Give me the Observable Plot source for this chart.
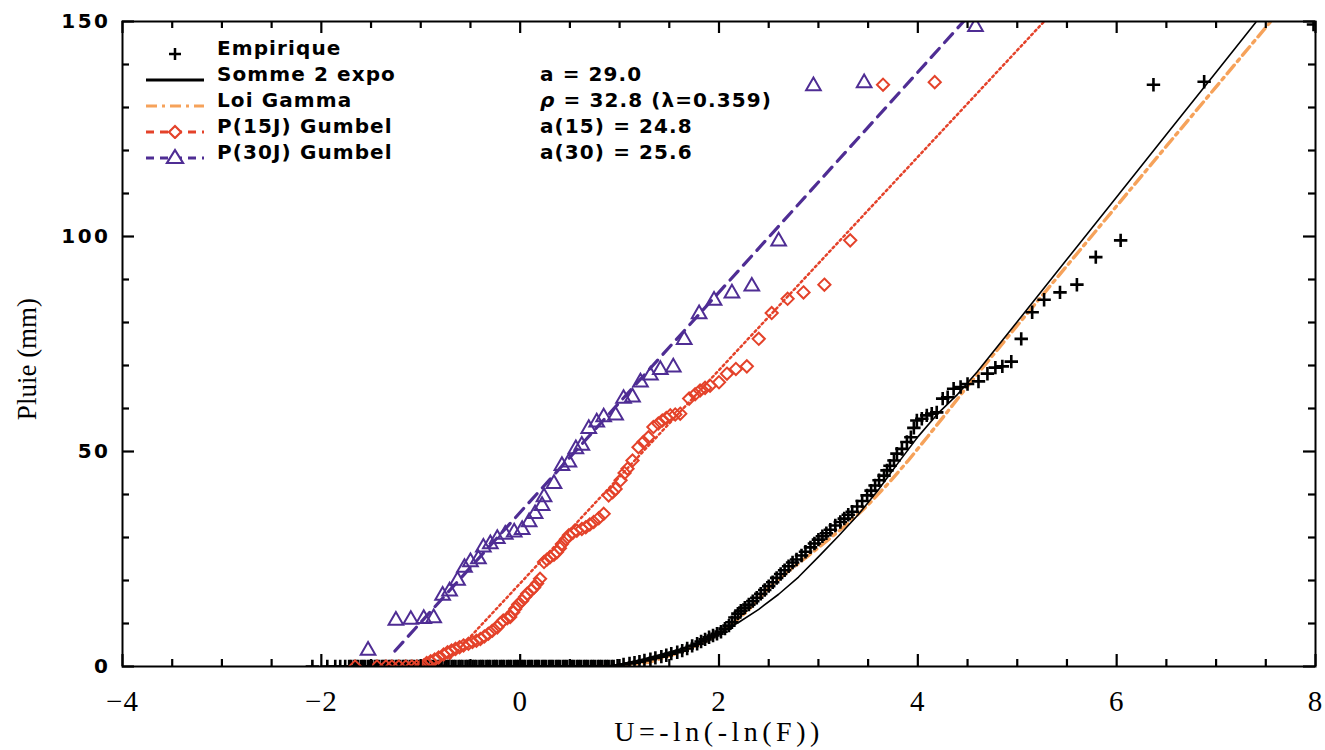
<!DOCTYPE html>
<html><head><meta charset="utf-8">
<script src="https://cdn.jsdelivr.net/npm/d3@7"></script>
<script src="https://cdn.jsdelivr.net/npm/@observablehq/plot@0.6"></script>
<style>
html,body{margin:0;background:#fff;overflow:hidden;}
#wrap{position:relative;width:1325px;height:750px;overflow:hidden;}
#wrap svg{display:block;}
#chart,#ticks{position:absolute;left:0;top:0;}
#legend{position:absolute;left:0;top:0;width:900px;height:180px;pointer-events:none;}
.lrow{position:absolute;left:140px;height:26px;display:flex;align-items:center;font-family:"DejaVu Sans",sans-serif;font-weight:bold;font-size:20px;letter-spacing:1.1px;color:#000;white-space:nowrap;}
.lrow svg{width:77px;height:26px;flex:none;}
.lrow .t1{width:323px;}
g[aria-label="y-axis tick label"] text{letter-spacing:2.5px;}
g[aria-label="x-axis tick label"] text{letter-spacing:1px;}
</style>
</head><body>
<div id="wrap"><div id="chart"></div><div id="ticks"></div><div id="legend"></div></div>
<script>
// ---- data ----
const xMajor = [-4, -2, 0, 2, 4, 6, 8];
const xMinor = [-3.5, -3, -2.5, -1.5, -1, -0.5, 0.5, 1, 1.5, 2.5, 3, 3.5, 4.5, 5, 5.5, 6.5, 7, 7.5];
const yMajor = [0, 50, 100, 150];
const yMinor = [10, 20, 30, 40, 60, 70, 80, 90, 110, 120, 130, 140];

// Empirique: U values of the zero-rain days
const empZeroU = [-2.09, -1.94, -1.86, -1.81, -1.76, -1.72, -1.70, -1.67, -1.65, -1.63, -1.60, -1.58, -1.56, -1.53, -1.51, -1.49, -1.46, -1.44, -1.42, -1.39, -1.37, -1.35, -1.32, -1.30, -1.28, -1.25, -1.23, -1.21, -1.18, -1.16, -1.14, -1.11, -1.09, -1.07, -1.04, -1.02, -1.00, -0.97, -0.95, -0.93, -0.90, -0.88, -0.86, -0.83, -0.81, -0.79, -0.76, -0.74, -0.72, -0.69, -0.67, -0.65, -0.62, -0.60, -0.58, -0.55, -0.53, -0.51, -0.48, -0.46, -0.44, -0.41, -0.39, -0.37, -0.34, -0.32, -0.30, -0.27, -0.25, -0.23, -0.20, -0.18, -0.16, -0.13, -0.11, -0.09, -0.06, -0.04, -0.02, 0.01, 0.03, 0.05, 0.08, 0.10, 0.12, 0.15, 0.17, 0.19, 0.22, 0.24, 0.26, 0.29, 0.31, 0.33, 0.36, 0.38, 0.40, 0.43, 0.45, 0.47, 0.50, 0.52, 0.54, 0.57, 0.59, 0.61, 0.64, 0.66, 0.68, 0.71, 0.73, 0.75, 0.78, 0.80, 0.82, 0.85, 0.87, 0.89, 0.92, 0.94];
// Empirique: rainy days (U, pluie)
const empU = [0.98, 1.04, 1.10, 1.15, 1.20, 1.25, 1.31, 1.36, 1.42, 1.47, 1.52, 1.58, 1.63, 1.68, 1.73, 1.78, 1.82, 1.86, 1.90, 1.94, 1.98, 2.02, 2.06, 2.10, 2.13, 2.16, 2.19, 2.22, 2.26, 2.30, 2.34, 2.38, 2.42, 2.46, 2.50, 2.54, 2.58, 2.62, 2.66, 2.70, 2.74, 2.78, 2.83, 2.87, 2.92, 2.96, 3.00, 3.04, 3.08, 3.12, 3.17, 3.22, 3.26, 3.30, 3.34, 3.39, 3.44, 3.49, 3.53, 3.57, 3.61, 3.66, 3.69, 3.72, 3.76, 3.79, 3.84, 3.89, 3.93, 3.96, 3.99, 4.04, 4.09, 4.14, 4.19, 4.25, 4.30, 4.36, 4.43, 4.50, 4.61, 4.70, 4.78, 4.85, 4.94, 5.04, 5.15, 5.27, 5.43, 5.60, 5.79, 6.04, 6.37, 6.88, 7.98];
const empP = [0.2, 0.5, 0.7, 0.9, 1.1, 1.4, 1.7, 2.0, 2.3, 2.6, 3.0, 3.3, 3.7, 4.2, 4.8, 5.3, 5.8, 6.3, 6.8, 7.2, 7.6, 8.1, 8.8, 9.5, 10.3, 11.4, 12.3, 13.0, 13.7, 14.4, 15.2, 16.0, 16.9, 17.8, 18.7, 19.6, 20.6, 21.5, 22.4, 23.3, 24.2, 24.9, 25.8, 26.7, 27.7, 28.6, 29.5, 30.3, 31.0, 31.8, 32.8, 33.6, 34.4, 35.3, 36.0, 37.2, 38.5, 39.8, 40.9, 42.1, 43.3, 44.4, 45.6, 46.7, 47.9, 49.5, 50.6, 52.2, 53.3, 55.5, 57.2, 57.6, 58.4, 58.8, 59.1, 62.3, 62.6, 64.6, 65.0, 65.7, 66.3, 68.1, 69.5, 69.8, 70.9, 76.2, 82.4, 85.3, 87.0, 88.8, 95.2, 99.1, 135.3, 136.0, 149.3];

// Somme 2 expo (a = 29.0)
const expoU = [0.85, 1.0, 1.2, 1.4, 1.6, 1.8, 2.0, 2.2, 2.4, 2.6, 2.8, 3.0, 3.2, 3.4, 3.6, 3.8, 4.0, 4.2, 4.4, 4.6, 5.0, 5.5, 6.0, 6.5, 7.0, 7.40];
const expoP = [0, 0.5, 1.5, 2.7, 4.0, 5.6, 7.7, 10.3, 13.3, 16.8, 20.8, 25.5, 30.3, 35.3, 41.0, 47.3, 53.4, 58.8, 63.3, 68.6, 80.2, 94.7, 109.2, 123.7, 138.2, 149.8];
// Loi Gamma
const gamU = [0.76, 1.0, 1.3, 1.6, 1.9, 2.1, 2.3, 2.5, 2.7, 2.9, 3.1, 3.3, 3.5, 3.7, 3.9, 4.1, 4.3, 4.5, 5.0, 5.5, 6.0, 6.5, 7.0, 7.55];
const gamP = [0, 0.2, 1.0, 3.2, 6.2, 9.3, 13.2, 18.3, 22.2, 25.8, 29.5, 33.3, 37.6, 42.5, 47.8, 53.5, 59.3, 65.2, 79.3, 93.2, 107.1, 121.0, 134.8, 150.0];

// P(15J) Gumbel points and fitted line (a(15) = 24.8)
const p15U = [-1.66, -1.44, -1.35, -1.29, -1.22, -1.15, -1.09, -1.04, -1.00, -0.97, -0.94, -0.90, -0.86, -0.82, -0.77, -0.73, -0.69, -0.65, -0.61, -0.57, -0.52, -0.48, -0.44, -0.40, -0.36, -0.32, -0.28, -0.23, -0.20, -0.17, -0.13, -0.10, -0.07, -0.05, -0.02, 0.02, 0.05, 0.07, 0.11, 0.14, 0.17, 0.20, 0.24, 0.27, 0.30, 0.34, 0.37, 0.40, 0.42, 0.46, 0.49, 0.53, 0.57, 0.62, 0.66, 0.70, 0.74, 0.79, 0.84, 0.89, 0.93, 0.96, 1.01, 1.05, 1.08, 1.13, 1.19, 1.24, 1.29, 1.34, 1.39, 1.43, 1.47, 1.51, 1.56, 1.61, 1.70, 1.76, 1.81, 1.86, 1.91, 2.00, 2.08, 2.17, 2.28, 2.40, 2.53, 2.69, 2.85, 3.06, 3.32, 3.65, 4.17];
const p15P = [0, 0, 0, 0, 0, 0, 0, 0, 0, 0.2, 0.8, 1.2, 1.6, 2.1, 2.8, 3.3, 3.7, 4.1, 4.5, 4.9, 5.3, 5.7, 6.0, 6.4, 7.0, 7.6, 8.3, 9.1, 10.0, 10.7, 11.2, 11.5, 12.6, 13.4, 14.4, 15.3, 16.2, 16.9, 17.7, 18.4, 19.3, 20.4, 24.3, 24.9, 25.4, 26.0, 26.6, 27.5, 28.5, 29.6, 30.5, 31.1, 31.6, 32.0, 32.4, 33.0, 33.6, 34.5, 35.5, 39.8, 40.5, 41.3, 43.3, 45.0, 46.0, 47.9, 51.0, 52.2, 53.3, 55.7, 56.5, 57.2, 57.8, 58.4, 58.6, 58.8, 62.3, 63.3, 64.2, 64.8, 65.3, 66.1, 68.1, 69.2, 69.8, 76.2, 82.2, 85.5, 87.0, 88.8, 99.1, 135.3, 135.9];
const g15U = [-0.78, 5.27];
const g15P = [0, 150];

// P(30J) Gumbel points and fitted line (a(30) = 25.6)
const p30U = [-1.53, -1.25, -1.10, -0.97, -0.87, -0.78, -0.71, -0.63, -0.56, -0.50, -0.42, -0.37, -0.30, -0.23, -0.15, -0.06, 0.02, 0.09, 0.15, 0.22, 0.24, 0.34, 0.42, 0.49, 0.56, 0.62, 0.69, 0.77, 0.84, 0.96, 1.04, 1.13, 1.21, 1.31, 1.41, 1.54, 1.65, 1.80, 1.95, 2.13, 2.33, 2.60, 2.95, 3.46, 4.58];
const p30P = [3.7, 10.7, 10.9, 11.1, 11.3, 16.5, 17.5, 20.0, 23.0, 24.3, 25.0, 27.7, 28.5, 29.7, 30.7, 31.2, 31.8, 33.6, 35.5, 37.4, 39.4, 42.5, 46.7, 47.5, 50.6, 51.4, 55.3, 56.8, 58.0, 58.4, 62.3, 62.6, 66.1, 67.7, 69.0, 69.6, 76.0, 82.0, 85.1, 86.8, 88.4, 98.9, 135.0, 135.7, 148.8];
const g30U = [-1.26, 4.46];
const g30P = [3.6, 150];

const legendNames = ["Empirique", "Somme 2 expo", "Loi Gamma", "P(15J) Gumbel", "P(30J) Gumbel"];
const legendParams = ["", "a = 29.0", "ρ = 32.8 (λ=0.359)", "a(15) = 24.8", "a(30) = 25.6"];

// ---- styles ----
const BLACK = "#000000", ORANGE = "#f6a25a", RED = "#e4422a", PURPLE = "#4f2d94";
const W = 1325, H = 750, ML = 122, MR = 10, MT = 21, MB = 84;
const FW = W - ML - MR, FH = H - MT - MB;
const MAJ = 12, MIN = 7;
const X0 = -4, X1 = 8, Y0 = 0, Y1 = 150;
// tick lengths expressed in scale units (pixels -> data)
const kx = (X1 - X0) / FW, ky = (Y1 - Y0) / FH;
const box = {width: W, height: H, marginLeft: ML, marginRight: MR, marginTop: MT, marginBottom: MB};

const zip = (us, ps) => us.map((u, i) => ({u, p: ps[i]}));
const empData = empZeroU.map(u => ({u, p: 0})).concat(zip(empU, empP));

const plot = Plot.plot({
  ...box,
  x: {domain: [X0, X1]},
  y: {domain: [Y0, Y1]},
  style: {background: "white", color: "black"},
  marks: [
    Plot.line(zip(gamU, gamP), {x: "u", y: "p", stroke: ORANGE, strokeWidth: 3.4, strokeDasharray: "11,5,3,5", clip: true}),
    Plot.line(zip(expoU, expoP), {x: "u", y: "p", stroke: BLACK, strokeWidth: 1.6, clip: true}),
    Plot.line(zip(g15U, g15P), {x: "u", y: "p", stroke: RED, strokeWidth: 2.5, strokeDasharray: "2,3.2", clip: true}),
    Plot.line(zip(g30U, g30P), {x: "u", y: "p", stroke: PURPLE, strokeWidth: 3.2, strokeDasharray: "12,8", clip: true}),
    Plot.dot(empData, {x: "u", y: "p", symbol: "plus", r: 4.4, stroke: BLACK, strokeWidth: 2.6, clip: true}),
    Plot.dot(zip(p15U, p15P), {x: "u", y: "p", symbol: "diamond2", r: 5.5, stroke: RED, strokeWidth: 2, fill: "none", clip: true}),
    Plot.dot(zip(p30U, p30P), {x: "u", y: "p", symbol: "triangle2", r: 7, stroke: PURPLE, strokeWidth: 2, fill: "none", clip: true}),
    // tick labels
    Plot.axisX({anchor: "bottom", ticks: xMajor, tickSize: 0, tickPadding: 24, label: null, fontFamily: "Liberation Serif", fontSize: 29}),
    Plot.axisY({anchor: "left", ticks: yMajor, tickSize: 0, tickPadding: 12, label: null, fontFamily: "DejaVu Sans", fontWeight: "bold", fontSize: 20}),
    // axis titles
    Plot.text(["U=-ln(-ln(F))"], {frameAnchor: "bottom", textAnchor: "middle", dy: 66, text: d => d, fontFamily: "Liberation Serif", fontSize: 28, lineAnchor: "middle"}),
    Plot.text(["Pluie (mm)"], {frameAnchor: "left", textAnchor: "middle", dx: -95, dy: 15, rotate: -90, text: d => d, fontFamily: "Liberation Serif", fontSize: 27, lineAnchor: "middle"})
  ]
});
document.getElementById("chart").appendChild(plot);
// wider letter spacing on the x title, like the reference
plot.querySelectorAll("text").forEach(t => { if (t.textContent === "U=-ln(-ln(F))") t.style.letterSpacing = "4.5px"; });

// frame and inward ticks on all four sides (same scales, transparent layer on top, no default axes)
const tk = {stroke: BLACK, strokeWidth: 2.2};
const ticks = Plot.plot({
  ...box,
  x: {domain: [X0, X1], axis: null},
  y: {domain: [Y0, Y1], axis: null},
  style: {background: "none", color: "black"},
  marks: [
    Plot.frame({stroke: BLACK, strokeWidth: 2}),
    Plot.ruleX(xMajor, {x: d => d, y1: Y0, y2: Y0 + MAJ * ky, ...tk}),
    Plot.ruleX(xMinor, {x: d => d, y1: Y0, y2: Y0 + MIN * ky, ...tk}),
    Plot.ruleX(xMajor, {x: d => d, y1: Y1 - MAJ * ky, y2: Y1, ...tk}),
    Plot.ruleX(xMinor, {x: d => d, y1: Y1 - MIN * ky, y2: Y1, ...tk}),
    Plot.ruleY(yMajor, {y: d => d, x1: X0, x2: X0 + MAJ * kx, ...tk}),
    Plot.ruleY(yMinor, {y: d => d, x1: X0, x2: X0 + MIN * kx, ...tk}),
    Plot.ruleY(yMajor, {y: d => d, x1: X1 - MAJ * kx, x2: X1, ...tk}),
    Plot.ruleY(yMinor, {y: d => d, x1: X1 - MIN * kx, x2: X1, ...tk})
  ]
});
document.getElementById("ticks").appendChild(ticks);

// ---- legend ----
const legendRowCenters = [48, 74, 100, 126, 152];
const legendSymbols = [
  `<path d="M29,19h12M35,13v12" stroke="${BLACK}" stroke-width="2.5"/>`,
  `<path d="M6,19H64" stroke="${BLACK}" stroke-width="3"/>`,
  `<path d="M6,19H64" stroke="${ORANGE}" stroke-width="3" stroke-dasharray="11,5,3,5"/>`,
  `<path d="M6,19H64" stroke="${RED}" stroke-width="3" stroke-dasharray="8,6"/><path d="M35,13l6,6l-6,6l-6,-6z" fill="white" stroke="${RED}" stroke-width="2.2"/>`,
  `<path d="M6,19H64" stroke="${PURPLE}" stroke-width="3" stroke-dasharray="8,6"/><path d="M35,11l8,13h-16z" fill="white" stroke="${PURPLE}" stroke-width="2.2"/>`
];
const legend = document.getElementById("legend");
legendNames.forEach((name, i) => {
  const row = document.createElement("div");
  row.className = "lrow";
  row.style.top = (legendRowCenters[i] - 13) + "px";
  row.innerHTML = `<svg viewBox="0 0 77 26">${legendSymbols[i]}</svg><span class="t1">${name}</span><span class="t2">${legendParams[i].replace("ρ", "<i>ρ</i>")}</span>`;
  legend.appendChild(row);
});
</script>
</body></html>
